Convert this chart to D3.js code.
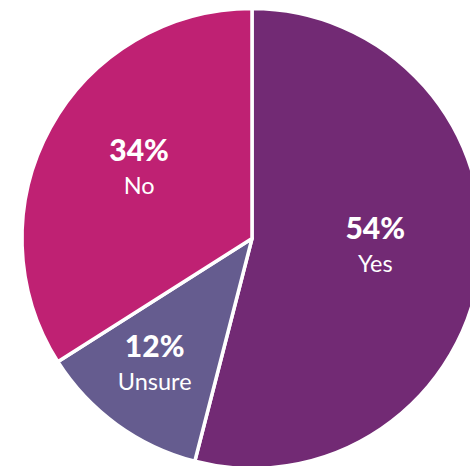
<!DOCTYPE html>
<html>
<head>
<meta charset="utf-8">
<script src="https://cdn.jsdelivr.net/npm/d3@7"></script>
<style>
  html, body { margin: 0; padding: 0; background: #fff; }
  svg { display: block; }
  text { font-family: Lato, "Open Sans", sans-serif; fill: #fff; }
</style>
</head>
<body>
<svg id="chart" width="470" height="466"></svg>
<script>
// Survey answers, in drawing order (clockwise from 12 o'clock)
const answers = ["Yes", "Unsure", "No"];
const shares = [54, 12, 34];
const sliceColors = ["#722a74", "#655c8f", "#bf2173"];
// how far out each label pair sits, as a fraction of the radius
const labelReach = [0.54, 0.72, 0.56];

const width = 470, height = 466;
const cx = 252, cy = 238.5, radius = 230;

const svg = d3.select("#chart");
const g = svg.append("g").attr("transform", `translate(${cx},${cy})`);

const pie = d3.pie().sort(null).value(d => d.value);
const data = answers.map((a, i) => ({ name: a, value: shares[i], color: sliceColors[i], reach: labelReach[i] }));
const arcs = pie(data);

const arc = d3.arc().innerRadius(0).outerRadius(radius);

g.selectAll("path.slice")
  .data(arcs)
  .join("path")
  .attr("class", "slice")
  .attr("d", arc)
  .attr("fill", d => d.data.color)
  .attr("stroke", "#fff")
  .attr("stroke-width", 3.5)
  .attr("stroke-linejoin", "round");

const labels = g.selectAll("g.label")
  .data(arcs)
  .join("g")
  .attr("class", "label")
  .attr("transform", d => {
    const r = radius * d.data.reach;
    const [x, y] = d3.arc().innerRadius(r).outerRadius(r).centroid(d);
    return `translate(${x},${y})`;
  });

labels.append("text")
  .attr("text-anchor", "middle")
  .attr("y", -15)
  .attr("font-size", 30)
  .attr("font-weight", 900)
  .text(d => d.data.value + "%");

labels.append("text")
  .attr("text-anchor", "middle")
  .attr("y", 17.5)
  .attr("font-size", 23.5)
  .attr("font-weight", 400)
  .text(d => d.data.name);
</script>
</body>
</html>
